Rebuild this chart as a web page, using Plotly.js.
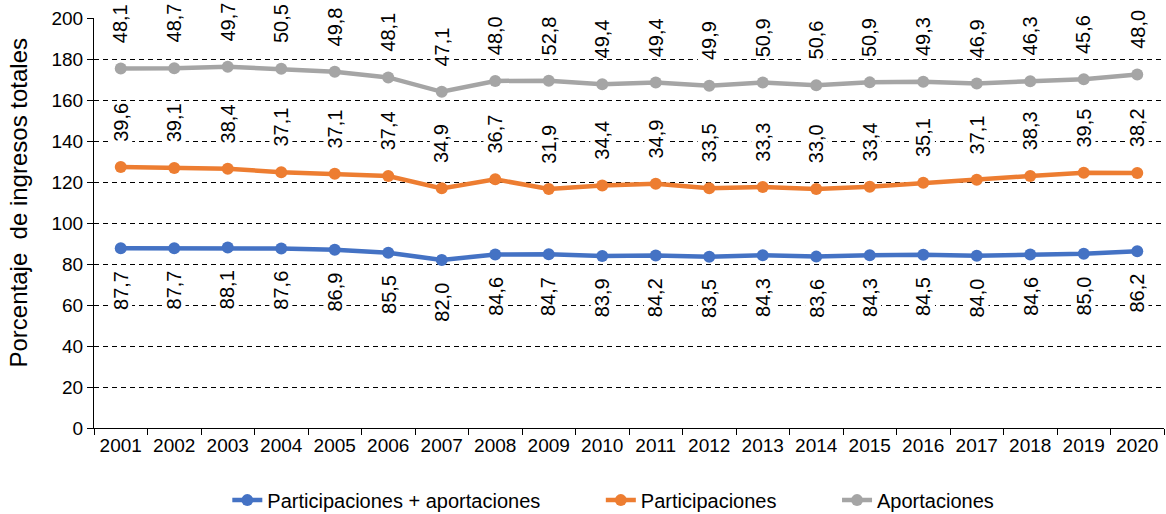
<!DOCTYPE html>
<html>
<head>
<meta charset="utf-8">
<script src="https://cdn.plot.ly/plotly-3.0.1.min.js"></script>
<style>html,body{margin:0;padding:0;background:#fff;}#chart{width:1166px;height:514px;}</style>
</head>
<body>
<div id="chart"></div>
<script>
const years = ["2001","2002","2003","2004","2005","2006","2007","2008","2009","2010","2011","2012","2013","2014","2015","2016","2017","2018","2019","2020"];
const totalValues = [87.7,87.7,88.1,87.6,86.9,85.5,82.0,84.6,84.7,83.9,84.2,83.5,84.3,83.6,84.3,84.5,84.0,84.6,85.0,86.2];
const participaciones = [39.6,39.1,38.4,37.1,37.1,37.4,34.9,36.7,31.9,34.4,34.9,33.5,33.3,33.0,33.4,35.1,37.1,38.3,39.5,38.2];
const aportaciones = [48.1,48.7,49.7,50.5,49.8,48.1,47.1,48.0,52.8,49.4,49.4,49.9,50.9,50.6,50.9,49.3,46.9,46.3,45.6,48.0];
const seriesNames = ["Participaciones + aportaciones","Participaciones","Aportaciones"];
const yTitle = "Porcentaje  de ingresos totales";
const colors = ["#4472C4","#ED7D31","#A5A5A5"];

// stacked positions
const lvl1 = totalValues.slice();
const lvl2 = lvl1.map((v,i)=>v+participaciones[i]);
const lvl3 = lvl2.map((v,i)=>v+aportaciones[i]);
const levels = [lvl1,lvl2,lvl3];
const labelVals = [totalValues, participaciones, aportaciones];

const fmt = v => v.toFixed(1).replace('.', ',');
const FONT = 'Liberation Sans, Arial, sans-serif';
const pad = '\u00A0'.repeat(10);

const traces = levels.map((lv,k)=>({
  x: years, y: lv, name: seriesNames[k] + (k < 2 ? pad : ''), type: 'scatter', mode: 'lines+markers',
  line: {color: colors[k], width: 4.5}, marker: {color: colors[k], size: 12},
  hoverinfo: 'skip'
}));

const annotations = [];
levels.forEach((lv,k)=>{
  lv.forEach((y,i)=>{
    annotations.push({
      x: i, y: y, xref: 'x', yref: 'y', text: fmt(labelVals[k][i]),
      showarrow: false, textangle: -90, bgcolor: '#ffffff',
      font: {family: FONT, size: 20, color: '#000'},
      xanchor: 'center', yanchor: 'middle',
      yshift: k === 0 ? -42 : 45, borderpad: 0
    });
  });
});
annotations.push({
  x: 0, y: 0.55, xref: 'paper', yref: 'paper', text: yTitle, showarrow: false,
  textangle: -90, xanchor: 'center', yanchor: 'middle', xshift: -76,
  font: {family: FONT, size: 24, color: '#000'}
});

const layout = {
  width: 1166, height: 514,
  margin: {l: 94, r: 2, t: 18, b: 86},
  paper_bgcolor: '#fff', plot_bgcolor: '#fff',
  font: {family: FONT, size: 19, color: '#000'},
  showlegend: true,
  legend: {orientation: 'h', x: 0.526, xanchor: 'center', xref: 'container',
           y: 0.027, yanchor: 'middle', yref: 'container',
           font: {size: 20}, tracegroupgap: 0},
  xaxis: {type: 'category', tickson: 'boundaries', ticks: 'outside', ticklen: 6,
          tickcolor: '#000', showline: true, linecolor: '#000', linewidth: 1,
          showgrid: false, zeroline: false, tickfont: {size: 19}, fixedrange: true,
          range: [-0.5, 19.5]},
  yaxis: {range: [0, 200], dtick: 20, ticks: 'outside', ticklen: 6, tickcolor: '#000',
          showline: true, linecolor: '#000', linewidth: 1, zeroline: false,
          showgrid: true, gridcolor: '#000', gridwidth: 1, griddash: '5px,4px',
          tickfont: {size: 19}},
  annotations: annotations
};

Plotly.newPlot('chart', traces, layout, {displayModeBar: false, staticPlot: true});
</script>
</body>
</html>
